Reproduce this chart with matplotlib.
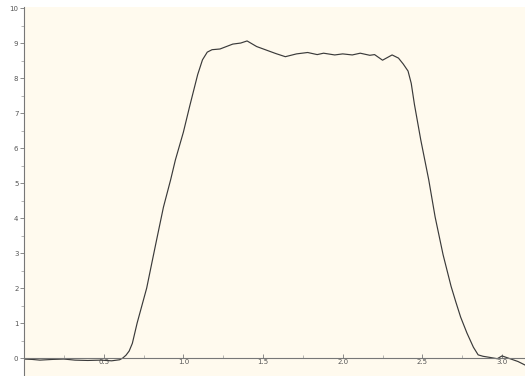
import numpy as np
import matplotlib
matplotlib.use("Agg")
import matplotlib.pyplot as plt
from matplotlib.ticker import MultipleLocator

# trace
x_vals = [0.00, 0.05, 0.10, 0.18, 0.25, 0.32, 0.40, 0.48, 0.55, 0.60, 0.62,
          0.64, 0.66, 0.68, 0.71, 0.77, 0.806, 0.836, 0.875, 0.92, 0.95, 1.00,
          1.04, 1.09, 1.12, 1.15, 1.18, 1.23, 1.31, 1.36, 1.40, 1.46, 1.52, 1.58,
          1.64, 1.71, 1.78, 1.84, 1.88, 1.95, 2.00, 2.06, 2.11, 2.17, 2.20,
          2.25, 2.31, 2.35, 2.38, 2.41, 2.43, 2.45, 2.49, 2.54, 2.58, 2.63, 2.68,
          2.71, 2.74, 2.78, 2.82, 2.85, 2.88, 2.92, 2.97, 3.00, 3.05, 3.10, 3.144]
y_vals = [-0.03, -0.04, -0.06, -0.04, -0.03, -0.06, -0.07, -0.06, -0.08, -0.05, 0.00,
          0.08, 0.20, 0.42, 1.00, 2.00, 2.80, 3.46, 4.31, 5.09, 5.66, 6.45,
          7.20, 8.10, 8.52, 8.74, 8.81, 8.83, 8.97, 9.00, 9.06, 8.90, 8.80, 8.70,
          8.61, 8.69, 8.73, 8.67, 8.71, 8.66, 8.69, 8.66, 8.71, 8.65, 8.67,
          8.51, 8.66, 8.57, 8.40, 8.20, 7.85, 7.25, 6.23, 5.09, 4.03, 2.95, 2.05,
          1.60, 1.17, 0.71, 0.31, 0.09, 0.05, 0.02, -0.02, 0.06, -0.02, -0.10, -0.20]

fig = plt.figure(figsize=(5.25, 3.76), dpi=100)
ax = fig.add_axes([24 / 525, 0, 1 - 24 / 525, 1 - 7 / 376])
ax.set_facecolor("#fffaee")

ax.plot(x_vals, y_vals, color="#3a3a3a", linewidth=0.85)

ax.set_xlim(0, 3.144)
ax.set_ylim(-0.514, 10.03)

for side in ["top", "right"]:
    ax.spines[side].set_visible(False)
ax.spines["bottom"].set_position(("data", 0))
ax.spines["left"].set_position(("data", 0))
for side in ["bottom", "left"]:
    ax.spines[side].set_color("#777777")
    ax.spines[side].set_linewidth(0.8)

ax.xaxis.set_major_locator(MultipleLocator(0.5))
ax.xaxis.set_minor_locator(MultipleLocator(0.25))
ax.yaxis.set_major_locator(MultipleLocator(1))
ax.yaxis.set_minor_locator(MultipleLocator(0.5))
ax.set_xticks([0.5, 1.0, 1.5, 2.0, 2.5, 3.0])
ax.set_xticklabels(["0.5", "1.0", "1.5", "2.0", "2.5", "3.0"])
ax.set_yticks(range(0, 11))

ax.tick_params(axis="both", which="major", direction="out", length=3, width=0.6,
               color="#777777", labelsize=5, labelcolor="#555555", pad=1)
ax.tick_params(axis="both", which="minor", direction="out", length=2, width=0.5,
               color="#999999")
ax.tick_params(axis="x", which="both", direction="in")

plt.savefig("out.png", dpi=100, facecolor="white")
